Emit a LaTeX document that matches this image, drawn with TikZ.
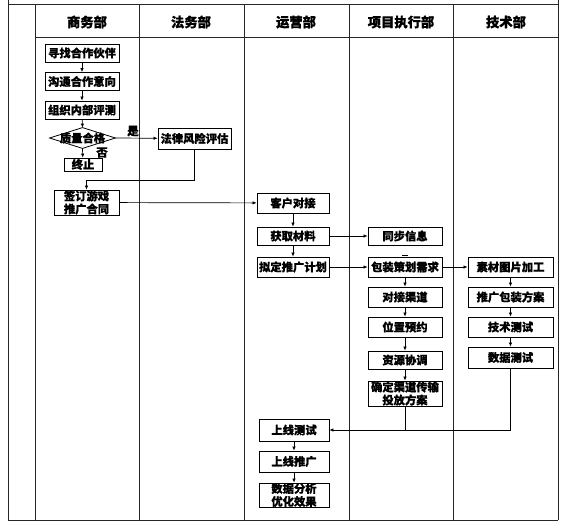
\documentclass[tikz,border=0pt]{standalone}
\usepackage{fontspec}
\newfontfamily\cjk{Noto Sans CJK SC}[BoldFeatures={FakeBold=0.8}]
\usetikzlibrary{arrows.meta}

\begin{document}
\begin{tikzpicture}[x=1pt,y=-1pt,
  box/.style={draw=black,line width=0.8pt,inner sep=0pt,align=center,
    font=\cjk\bfseries\fontsize{11.3}{13}\selectfont},
  head/.style={inner sep=0pt,font=\cjk\bfseries\fontsize{13.3}{14}\selectfont},
  lab/.style={inner sep=0pt,font=\cjk\bfseries\fontsize{11.5}{12}\selectfont},
  arr/.style={black,line width=0.7pt,-{Latex[length=4pt,width=3.5pt]}},
  lane/.style={black!85,line width=1pt}]
\useasboundingbox (0,0) rectangle (563,530);
\draw [lane] (8,4) -- (558,4);
\draw [lane] (8,0) -- (8,520);
\draw [lane] (558,0) -- (558,520);
\draw [lane] (8,520) -- (558,520);
\draw [lane] (35,37) -- (558,37);
\foreach \x in {35,139,244,349,453}
  \draw [lane] (\x,4) -- (\x,520);
\node [head] (hshang) at (87,22) {商务部};
\node [head] (hfa) at (191,22) {法务部};
\node [head] (hyun) at (296,22) {运营部};
\node [head] (hxiang) at (401,22) {项目执行部};
\node [head] (hji) at (506,22) {技术部};
\node [box,minimum width=74,minimum height=18] (xunzhao) at (82,53) {寻找合作伙伴};
\node [box,minimum width=74,minimum height=18] (goutong) at (82,81.5) {沟通合作意向};
\node [box,minimum width=74,minimum height=18] (zuzhi) at (82,110) {组织内部评测};
\node [box,draw=none,minimum width=65,minimum height=20] (zhiliang) at (82.5,138) {质量合格};
\draw [black,line width=0.8pt] (zhiliang.west) -- (zhiliang.north) -- (zhiliang.east) -- (zhiliang.south) -- cycle;
\node [box,minimum width=38,minimum height=13] (zhongzhi) at (83,164.5) {终止};
\node [box,minimum width=73,minimum height=21] (falv) at (194.5,138.5) {法律风险评估};
\node [box,minimum width=65,minimum height=25] (qianding) at (86.5,202.5) {签订游戏\\推广合同};
\node [box,minimum width=72,minimum height=20] (kehu) at (293,203) {客户对接};
\node [box,minimum width=72,minimum height=18] (huoqu) at (293,236) {获取材料};
\node [box,minimum width=72,minimum height=20] (niding) at (293,267) {拟定推广计划};
\node [box,minimum width=74,minimum height=18] (tongbu) at (405,236) {同步信息};
\node [box,minimum width=74,minimum height=20] (baozhuang) at (405,267) {包装策划需求};
\node [box,minimum width=74,minimum height=20] (duijie) at (405,297) {对接渠道};
\node [box,minimum width=74,minimum height=20] (weizhi) at (405,327) {位置预约};
\node [box,minimum width=74,minimum height=18] (ziyuan) at (405,360) {资源协调};
\node [box,minimum width=74,minimum height=25] (queding) at (405,393.5) {确定渠道传输\\投放方案};
\node [box,minimum width=85,minimum height=20] (sucai) at (510.5,267) {素材图片加工};
\node [box,minimum width=85,minimum height=20] (tuiguang) at (510.5,297) {推广包装方案};
\node [box,minimum width=85,minimum height=20] (jishu) at (510.5,327) {技术测试};
\node [box,minimum width=85,minimum height=21] (shuju) at (510.5,357.5) {数据测试};
\node [box,minimum width=70,minimum height=22] (ceshi) at (294,430) {上线测试};
\node [box,minimum width=70,minimum height=21] (shangxian) at (294,461.5) {上线推广};
\node [box,minimum width=70,minimum height=24] (fenxi) at (294,495) {数据分析\\优化效果};
\draw [arr] (xunzhao) -- (goutong);
\draw [arr] (goutong) -- (zuzhi);
\draw [arr] (zuzhi) -- (zhiliang.north);
\draw [arr] (zhiliang.south) -- (zhongzhi);
\draw [arr] (zhiliang.east) -- (falv);
\node [lab] (shi) at (133,131) {是};
\node [lab] (fou) at (102,152.5) {否};
\draw [arr] (falv.south) |- ([yshift=9pt]qianding.north) -- (qianding.north);
\draw [arr] (qianding) -- (kehu);
\draw [arr] (kehu) -- (huoqu);
\draw [arr] (huoqu) -- (niding);
\draw [arr] (huoqu) -- (tongbu);
\draw [arr] (niding) -- (baozhuang);
\draw [arr] (baozhuang) -- (sucai);
\draw [black,line width=1pt] ([xshift=-3pt,yshift=-10pt]tongbu.south) -- ([xshift=3pt,yshift=-10pt]tongbu.south);
\draw [arr] (baozhuang) -- (duijie);
\draw [arr] (duijie) -- (weizhi);
\draw [arr] (weizhi) -- (ziyuan);
\draw [arr] (ziyuan) -- (queding);
\draw [arr] (sucai) -- (tuiguang);
\draw [arr] (tuiguang) -- (jishu);
\draw [arr] (jishu) -- (shuju);
\draw [arr] (shuju.south) |- (ceshi.east);
\draw [black,line width=0.7pt] (queding.south) -- (queding.south |- ceshi.east);
\draw [arr] (ceshi) -- (shangxian);
\draw [arr] (shangxian) -- (fenxi);
\end{tikzpicture}
\end{document}
